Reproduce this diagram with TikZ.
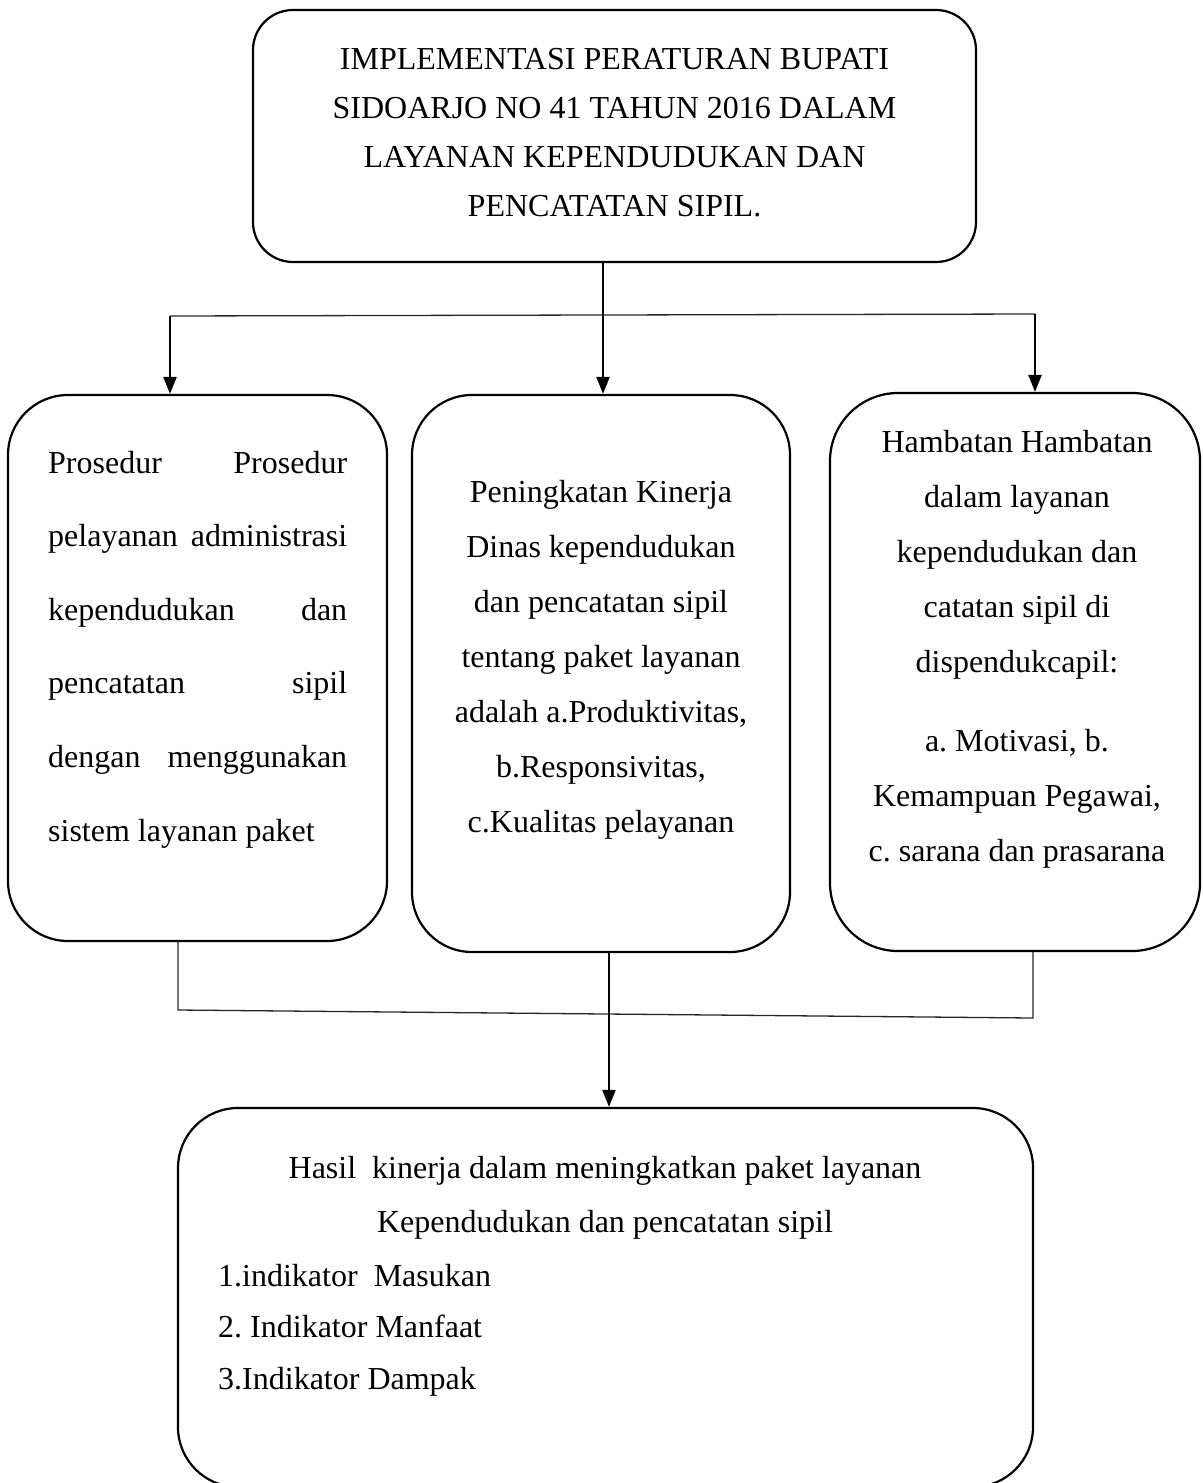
\documentclass[tikz,border=0pt]{standalone}
\usepackage{fontspec}
\setmainfont{Liberation Serif}
\usetikzlibrary{arrows.meta}
\frenchspacing
\begin{document}
\begin{tikzpicture}[x=1pt,y=-1pt,
  box/.style={draw,line width=2.2pt,rounded corners=#1,inner sep=0pt},
  txt/.style={font=\fontsize{32}{55}\selectfont,inner sep=0pt,align=center},
  arr/.style={line width=2.2pt,-{Triangle[length=17pt,width=13pt]}},
  thinln/.style={line width=1.3pt,black!85}]
\useasboundingbox (0,0) rectangle (1202,1483);

% boxes
\node[box=40pt,minimum width=723pt,minimum height=252pt] (top) at (614.5,136) {};
\node[box=60pt,minimum width=379pt,minimum height=546pt] (left) at (197.5,668) {};
\node[box=60pt,minimum width=378pt,minimum height=557pt] (mid) at (601,673.5) {};
\node[box=68pt,minimum width=370pt,minimum height=558pt] (right) at (1015,672) {};
\node[box=60pt,minimum width=855pt,minimum height=379pt] (bot) at (605.5,1297.5) {};

% texts (anchor base = baseline of the last line)
\node[txt,font=\fontsize{32}{49}\selectfont,anchor=base] (ttop) at (614.5,216) {IMPLEMENTASI PERATURAN BUPATI\\SIDOARJO NO 41 TAHUN 2016 DALAM\\LAYANAN KEPENDUDUKAN DAN\\PENCATATAN SIPIL.};

\node[txt,font=\fontsize{32}{73.6}\selectfont,align=left,anchor=base west] (tleft) at (48,841)
 {\hbox to 299pt{Prosedur\hfill Prosedur}\\
  \hbox to 299pt{pelayanan\hfill administrasi}\\
  \hbox to 299pt{kependudukan\hfill dan}\\
  \hbox to 299pt{pencatatan\hfill sipil}\\
  \hbox to 299pt{dengan\hfill menggunakan}\\
  sistem layanan paket};

\node[txt,anchor=base] (tmid) at (601,832) {Peningkatan Kinerja\\Dinas kependudukan\\dan pencatatan sipil\\tentang paket layanan\\adalah a.Produktivitas,\\b.Responsivitas,\\c.Kualitas pelayanan};

\node[txt,anchor=base] (tright) at (1017,861) {Hambatan Hambatan\\dalam layanan\\kependudukan dan\\catatan sipil di\\dispendukcapil:\\[24pt]a. Motivasi, b.\\Kemampuan Pegawai,\\c. sarana dan prasarana};

\node[txt,font=\fontsize{32}{54}\selectfont,anchor=base] (tbot) at (605,1232) {Hasil\ \ kinerja dalam meningkatkan paket layanan\\Kependudukan dan pencatatan sipil};
\node[txt,font=\fontsize{32}{51.5}\selectfont,align=left,anchor=base west] (tlist) at (218,1389) {1.indikator\ \ Masukan\\2. Indikator Manfaat\\3.Indikator Dampak};

% connectors
\coordinate (hl) at (170,316);
\coordinate (hr) at (1035,314);
\coordinate (tx) at (603,0);
\coordinate (mx) at (609,0);
\coordinate (bl) at (178,1010);
\coordinate (br) at (1033,1018);

\draw[line width=2.2pt] (top.south -| tx) -- (hl -| tx);
\draw[arr] (hl -| tx) -- (mid.north -| tx);
\draw[thinln] (hl) -- (hr);
\draw[arr] (hl) -- (hl |- left.north);
\draw[arr] (hr) -- (hr |- right.north);

\draw[thinln] (bl |- left.south) -- (bl) -- (br) -- (br |- right.south);
\draw[arr] (mid.south -| mx) -- (bot.north -| mx);
\end{tikzpicture}
\end{document}
